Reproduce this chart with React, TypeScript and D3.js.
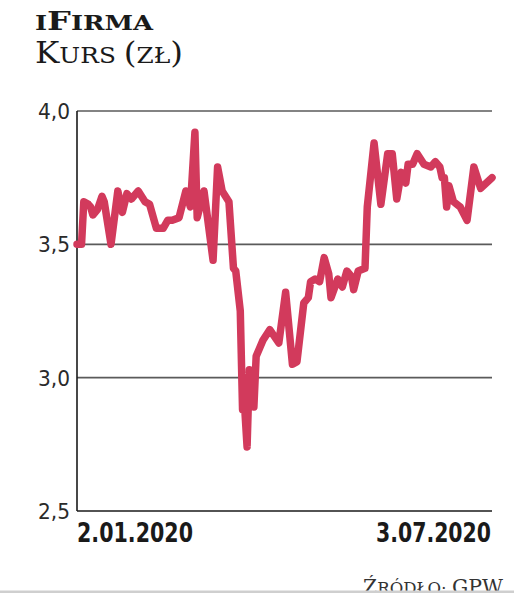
import React from "react";
import * as d3 from "d3";

// Days elapsed since 2 Jan 2020 (calendar days) and closing price (zł)
const startDate = new Date(2020, 0, 2);
const endDate = new Date(2020, 6, 3);
const dayOffsets = [
  0, 2, 3, 5, 6, 7, 9, 11, 12, 15, 18, 20, 22, 24, 27, 30, 32, 34, 35, 38,
  40, 42, 45, 48, 50, 52, 53, 56, 60, 62, 64, 67, 69, 70, 72, 73, 74, 75, 76, 78,
  79, 82, 85, 89, 92, 95, 97, 100, 102, 103, 105, 107, 109, 111, 112, 115, 117, 119, 121, 122,
  124, 127, 128, 131, 134, 137, 139, 141, 143, 145, 146, 148, 150, 153, 156, 158, 160, 161, 162, 163,
  164, 166, 169, 172, 175, 178, 183,
];
const prices = [
  3.5, 3.5, 3.66, 3.65, 3.64, 3.61, 3.63, 3.68, 3.66, 3.5, 3.7, 3.62, 3.69, 3.67, 3.7, 3.66, 3.65, 3.59, 3.56, 3.56,
  3.59, 3.59, 3.6, 3.7, 3.64, 3.92, 3.6, 3.7, 3.44, 3.79, 3.7, 3.66, 3.41, 3.4, 3.25, 2.88, 2.88, 2.74, 3.03, 2.89,
  3.08, 3.14, 3.18, 3.13, 3.32, 3.05, 3.06, 3.28, 3.3, 3.36, 3.37, 3.36, 3.45, 3.39, 3.3, 3.37, 3.34, 3.4, 3.38, 3.33,
  3.4, 3.41, 3.64, 3.88, 3.65, 3.84, 3.84, 3.67, 3.77, 3.73, 3.8, 3.8, 3.84, 3.8, 3.79, 3.81, 3.79, 3.75, 3.75, 3.64,
  3.72, 3.66, 3.64, 3.59, 3.79, 3.71, 3.75,
];
const yTicks = [2.5, 3.0, 3.5, 4.0];
const dateLabels = ["2.01.2020", "3.07.2020"];

const W = 514;
const H = 593;
const left = 77;
const right = 492;
const top = 111;
const bottom = 511;

export default function App() {
  const x = d3.scaleTime().domain([startDate, endDate]).range([left, right]);
  const y = d3.scaleLinear().domain([2.5, 4.0]).range([bottom, top]);
  const data = dayOffsets.map((d, i) => ({
    date: d3.timeDay.offset(startDate, d),
    value: prices[i],
  }));
  const line = d3
    .line<{ date: Date; value: number }>()
    .x((d) => x(d.date))
    .y((d) => y(d.value));
  const fmt = (v: number) => v.toFixed(1).replace(".", ",");
  const serif = "'DejaVu Serif', serif";
  const cond = "'DejaVu Sans Condensed', 'DejaVu Sans', sans-serif";

  return (
    <svg
      width={W}
      height={H}
      style={{ position: "absolute", left: 0, top: 0, background: "#fff" }}
    >
      <rect x={0} y={0} width={W} height={H} fill="#fff" />
      {/* Title */}
      <text x={35} y={30} fontFamily={serif} fontWeight="bold" fill="#1a1a1a" textLength={118} lengthAdjust="spacingAndGlyphs">
        <tspan fontSize={20}>I</tspan>
        <tspan fontSize={26}>F</tspan>
        <tspan fontSize={20}>IRMA</tspan>
      </text>
      <text x={35} y={63} fontFamily={serif} fill="#1a1a1a" textLength={148} lengthAdjust="spacingAndGlyphs">
        <tspan fontSize={29}>K</tspan>
        <tspan fontSize={22}>URS </tspan>
        <tspan fontSize={29}>(</tspan>
        <tspan fontSize={22}>ZŁ</tspan>
        <tspan fontSize={29}>)</tspan>
      </text>

      {/* Gridlines */}
      {yTicks
        .filter((t) => t > 2.5)
        .map((t) => (
          <line key={t} x1={left} x2={right} y1={y(t)} y2={y(t)} stroke="#5a5a5a" strokeWidth={1.6} />
        ))}
      <line x1={left} x2={right} y1={bottom} y2={bottom} stroke="#1a1a1a" strokeWidth={1.6} />
      <line x1={left} x2={left} y1={top} y2={bottom} stroke="#1a1a1a" strokeWidth={1.6} />

      {/* Y tick labels */}
      {yTicks.map((t) => (
        <text
          key={t}
          x={70}
          y={y(t) + 8}
          textAnchor="end"
          fontFamily={cond}
          fontWeight={300}
          fontSize={22}
          fill="#2a2a2a"
          textLength={32}
          lengthAdjust="spacingAndGlyphs"
        >
          {fmt(t)}
        </text>
      ))}

      {/* Price line */}
      <path
        d={line(data) || ""}
        fill="none"
        stroke="#d23a5c"
        strokeWidth={7.5}
        strokeLinejoin="round"
        strokeLinecap="round"
      />

      {/* Date labels */}
      <text x={left} y={542} fontFamily={cond} fontWeight="bold" fontSize={27} fill="#1a1a1a" textLength={116} lengthAdjust="spacingAndGlyphs">
        {dateLabels[0]}
      </text>
      <text x={491} y={542} textAnchor="end" fontFamily={cond} fontWeight="bold" fontSize={27} fill="#1a1a1a" textLength={115} lengthAdjust="spacingAndGlyphs">
        {dateLabels[1]}
      </text>

      {/* Source */}
      <text x={363} y={594} fontFamily={serif} fill="#333" textLength={140} lengthAdjust="spacingAndGlyphs">
        <tspan fontSize={21}>Ź</tspan>
        <tspan fontSize={17}>RÓDŁO: </tspan>
        <tspan fontSize={21}>GPW</tspan>
      </text>
      <rect x={0} y={590.5} width={W} height={3} fill="#cfcfcf" />
    </svg>
  );
}
